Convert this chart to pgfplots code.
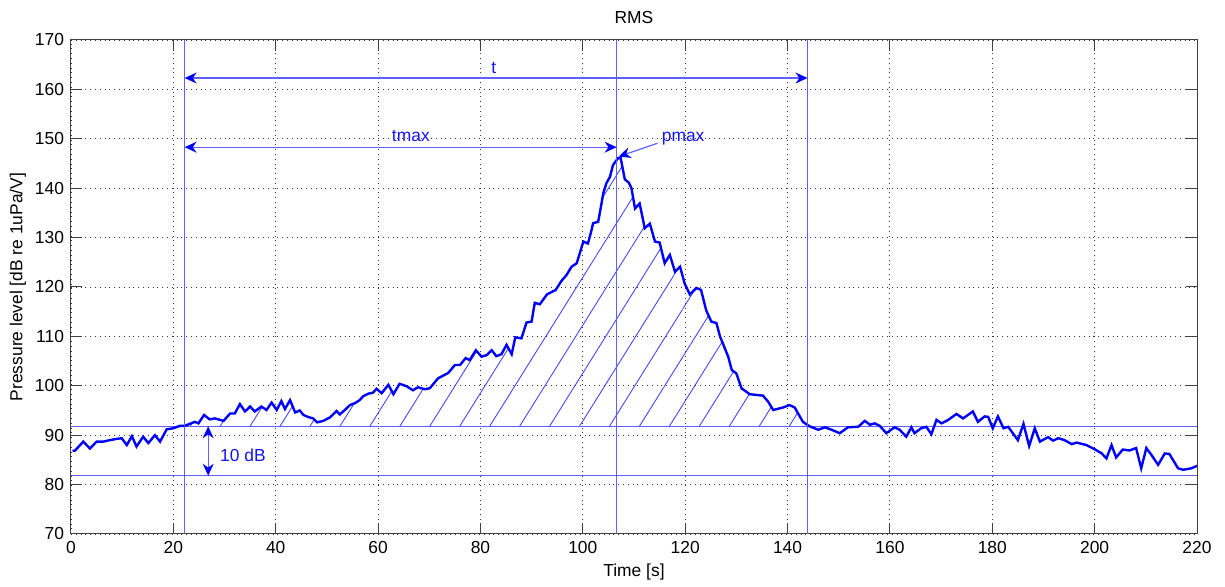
\documentclass[border=0pt]{standalone}
\usepackage{fontspec}
\setmainfont{Liberation Sans}
\usepackage{pgfplots}
\pgfplotsset{compat=1.18}
\usepgfplotslibrary{fillbetween}
\usetikzlibrary{patterns.meta,arrows.meta}
\definecolor{lineblue}{RGB}{95,95,255}
\definecolor{hatchblue}{RGB}{70,70,255}
\definecolor{curveblue}{RGB}{0,0,255}
\definecolor{txtblue}{RGB}{20,20,240}
\begin{document}
\begin{tikzpicture}[font=\fontsize{8.7}{10.4}\selectfont]
\begin{axis}[name=ax,
  scale only axis, width=563pt, height=247pt,
  xmin=0, xmax=220, ymin=70, ymax=170,
  xtick={0,20,...,220}, ytick={70,80,...,170},
  tick align=inside, major tick length=5.6pt,
  tick style={black!75, line width=0.5pt},
  axis line style={black!75, line width=0.5pt},
  grid=major, grid style={dotted, black!80, line width=0.45pt},
  /pgf/number format/assume math mode=true,
  every axis title/.style={at={(rel axis cs:0.5,1)}, anchor=center, yshift=11pt},
  every axis x label/.style={at={(rel axis cs:0.5,0)}, anchor=center, yshift=-19pt},
  every axis y label/.style={at={(rel axis cs:0,0.5)}, xshift=-26.5pt, rotate=90, anchor=center},
  title={RMS}, xlabel={Time [s]}, ylabel={Pressure level [dB re 1uPa/V]},
  clip=true,
]
% baseline and lower line
\addplot[name path=base, lineblue, line width=0.6pt] coordinates {(0,91.8) (220,91.8)};
\addplot[lineblue, line width=0.6pt] coordinates {(0,81.8) (220,81.8)};
% curve
\addplot[name path=curve, draw=none, forget plot] coordinates {
(0.3,86.8) (0.8,86.9) (2.4,88.7) (3.7,87.3) (5.0,88.7) (6.3,88.7) (7.6,89.0) (8.6,89.2) (9.9,89.4)
(10.9,88.0) (11.9,89.8) (12.8,87.7) (14.1,89.7) (15.1,88.4) (16.4,90.0) (17.4,88.7) (18.7,91.2)
(20.0,91.4) (21.3,91.9) (22.3,91.9) (23.2,92.3) (24.2,92.7) (24.9,92.4) (26.0,94.1) (27.1,93.2)
(28.1,93.4) (29.8,92.9) (31.1,94.4) (32.0,94.4) (33.0,96.3) (34.0,94.8) (35.0,95.8) (35.9,94.8)
(37.2,95.8) (38.2,95.1) (39.2,96.6) (40.2,95.1) (41.1,96.9) (41.8,95.3) (42.8,97.1) (43.8,94.6)
(44.7,95.0) (45.4,94.1) (46.3,93.7) (47.3,93.4) (48.1,92.6) (49.3,92.9) (50.6,93.6) (51.9,94.9)
(52.5,94.2) (53.5,95.1) (54.5,96.1) (55.5,96.5) (56.4,97.1) (57.1,97.9) (58.1,98.4) (59.0,98.6)
(59.7,99.4) (60.7,98.5) (62.0,100.2) (63.0,98.3) (64.2,100.4) (65.6,99.9) (66.8,99.1) (67.8,99.7)
(69.1,99.3) (70.1,99.5) (71.7,101.5) (73.7,102.6) (75.0,104.2) (76.0,104.2) (77.1,105.6) (77.9,105.2)
(79.1,107.2) (80.2,105.9) (81.2,106.2) (82.2,107.2) (83.1,106.0) (84.1,106.4) (85.1,108.3) (86.1,106.4)
(86.8,109.8) (88.0,109.6) (89.0,112.8) (90.0,113.0) (90.6,116.8) (91.6,116.5) (93.0,118.5) (94.7,119.4)
(95.8,121.2) (96.8,122.4) (97.8,124.1) (98.8,124.8) (99.4,126.8) (100.1,129.2) (101.0,128.8) (101.7,131.5)
(102.0,132.9) (103.0,133.2) (103.6,136.6) (104.0,139.0) (104.6,141.0) (105.3,142.3) (105.9,144.7) (106.9,146.1)
(107.4,146.1) (108.2,141.8) (109.0,141.1) (109.5,140.0) (110.2,135.9) (111.1,136.9) (112.1,131.9) (113.1,132.8)
(114.1,129.2) (115.0,129.0) (116.0,124.8) (117.0,126.5) (118.0,123.1) (119.0,124.1) (119.9,120.7) (120.9,118.5)
(122.2,119.8) (123.1,119.4) (124.1,115.3) (125.1,113.0) (126.1,112.7) (126.8,110.0) (128.4,105.9) (129.1,103.2)
(130.0,102.5) (131.0,99.5) (132.6,98.3) (135.2,98.0) (136.2,96.8) (137.2,95.1) (139.1,95.6) (140.4,96.1)
(141.4,95.6) (143.0,92.7) (144.3,91.8) (146.0,91.1) (147.3,91.6) (148.6,91.1) (150.2,90.4) (151.8,91.6)
(153.8,91.7) (155.1,92.9) (156.1,92.1) (157.0,92.4) (158.0,91.9) (159.3,90.4) (160.9,91.6) (161.9,91.1)
(163.2,89.7) (164.2,91.6) (164.8,90.4) (166.1,91.4) (167.1,91.7) (168.1,90.2) (169.1,93.1) (170.1,92.4)
(171.4,93.1) (173.0,94.3) (174.3,93.4) (176.2,94.8) (177.2,92.7) (178.5,93.8) (179.2,93.7) (180.1,91.4)
(181.1,93.8) (182.2,91.4) (183.1,91.7) (185.0,89.0) (186.1,92.3) (187.2,87.8) (188.3,91.4) (189.3,88.7)
(190.9,89.6) (191.9,88.9) (192.9,89.4) (194.1,89.0) (195.5,88.2) (196.5,88.5) (198.4,88.0) (200.1,87.1)
(201.4,86.3) (202.3,85.3) (203.3,88.0) (204.2,85.5) (205.5,87.1) (206.8,86.9) (208.1,87.4) (209.1,83.3)
(210.1,87.4) (211.1,86.0) (212.4,84.0) (213.7,86.3) (214.6,86.2) (216.3,83.3) (217.3,83.0) (218.9,83.3)
(220.0,83.8)
};
\addplot[pattern={Lines[angle=58, distance=12.7pt, line width=0.45pt]}, pattern color=hatchblue, draw=none]
  fill between[of=curve and base, soft clip={domain=22.2:143.9}];
\addplot[curveblue, line width=1.2pt] coordinates {
(0.3,86.8) (0.8,86.9) (2.4,88.7) (3.7,87.3) (5.0,88.7) (6.3,88.7) (7.6,89.0) (8.6,89.2) (9.9,89.4)
(10.9,88.0) (11.9,89.8) (12.8,87.7) (14.1,89.7) (15.1,88.4) (16.4,90.0) (17.4,88.7) (18.7,91.2)
(20.0,91.4) (21.3,91.9) (22.3,91.9) (23.2,92.3) (24.2,92.7) (24.9,92.4) (26.0,94.1) (27.1,93.2)
(28.1,93.4) (29.8,92.9) (31.1,94.4) (32.0,94.4) (33.0,96.3) (34.0,94.8) (35.0,95.8) (35.9,94.8)
(37.2,95.8) (38.2,95.1) (39.2,96.6) (40.2,95.1) (41.1,96.9) (41.8,95.3) (42.8,97.1) (43.8,94.6)
(44.7,95.0) (45.4,94.1) (46.3,93.7) (47.3,93.4) (48.1,92.6) (49.3,92.9) (50.6,93.6) (51.9,94.9)
(52.5,94.2) (53.5,95.1) (54.5,96.1) (55.5,96.5) (56.4,97.1) (57.1,97.9) (58.1,98.4) (59.0,98.6)
(59.7,99.4) (60.7,98.5) (62.0,100.2) (63.0,98.3) (64.2,100.4) (65.6,99.9) (66.8,99.1) (67.8,99.7)
(69.1,99.3) (70.1,99.5) (71.7,101.5) (73.7,102.6) (75.0,104.2) (76.0,104.2) (77.1,105.6) (77.9,105.2)
(79.1,107.2) (80.2,105.9) (81.2,106.2) (82.2,107.2) (83.1,106.0) (84.1,106.4) (85.1,108.3) (86.1,106.4)
(86.8,109.8) (88.0,109.6) (89.0,112.8) (90.0,113.0) (90.6,116.8) (91.6,116.5) (93.0,118.5) (94.7,119.4)
(95.8,121.2) (96.8,122.4) (97.8,124.1) (98.8,124.8) (99.4,126.8) (100.1,129.2) (101.0,128.8) (101.7,131.5)
(102.0,132.9) (103.0,133.2) (103.6,136.6) (104.0,139.0) (104.6,141.0) (105.3,142.3) (105.9,144.7) (106.9,146.1)
(107.4,146.1) (108.2,141.8) (109.0,141.1) (109.5,140.0) (110.2,135.9) (111.1,136.9) (112.1,131.9) (113.1,132.8)
(114.1,129.2) (115.0,129.0) (116.0,124.8) (117.0,126.5) (118.0,123.1) (119.0,124.1) (119.9,120.7) (120.9,118.5)
(122.2,119.8) (123.1,119.4) (124.1,115.3) (125.1,113.0) (126.1,112.7) (126.8,110.0) (128.4,105.9) (129.1,103.2)
(130.0,102.5) (131.0,99.5) (132.6,98.3) (135.2,98.0) (136.2,96.8) (137.2,95.1) (139.1,95.6) (140.4,96.1)
(141.4,95.6) (143.0,92.7) (144.3,91.8) (146.0,91.1) (147.3,91.6) (148.6,91.1) (150.2,90.4) (151.8,91.6)
(153.8,91.7) (155.1,92.9) (156.1,92.1) (157.0,92.4) (158.0,91.9) (159.3,90.4) (160.9,91.6) (161.9,91.1)
(163.2,89.7) (164.2,91.6) (164.8,90.4) (166.1,91.4) (167.1,91.7) (168.1,90.2) (169.1,93.1) (170.1,92.4)
(171.4,93.1) (173.0,94.3) (174.3,93.4) (176.2,94.8) (177.2,92.7) (178.5,93.8) (179.2,93.7) (180.1,91.4)
(181.1,93.8) (182.2,91.4) (183.1,91.7) (185.0,89.0) (186.1,92.3) (187.2,87.8) (188.3,91.4) (189.3,88.7)
(190.9,89.6) (191.9,88.9) (192.9,89.4) (194.1,89.0) (195.5,88.2) (196.5,88.5) (198.4,88.0) (200.1,87.1)
(201.4,86.3) (202.3,85.3) (203.3,88.0) (204.2,85.5) (205.5,87.1) (206.8,86.9) (208.1,87.4) (209.1,83.3)
(210.1,87.4) (211.1,86.0) (212.4,84.0) (213.7,86.3) (214.6,86.2) (216.3,83.3) (217.3,83.0) (218.9,83.3)
(220.0,83.8)
};
% vertical lines
\addplot[lineblue, line width=0.6pt] coordinates {(22.2,70) (22.2,170)};
\addplot[lineblue, line width=0.6pt] coordinates {(106.6,70) (106.6,170)};
\addplot[lineblue, line width=0.6pt] coordinates {(143.9,70) (143.9,170)};
% arrows
\addplot[lineblue, line width=0.6pt, {Stealth[length=6pt,width=5.5pt,color=curveblue]}-{Stealth[length=6pt,width=5.5pt,color=curveblue]}] coordinates {(22.2,162.3) (143.9,162.3)};
\addplot[lineblue, line width=0.6pt, {Stealth[length=6pt,width=5.5pt,color=curveblue]}-{Stealth[length=6pt,width=5.5pt,color=curveblue]}] coordinates {(22.2,148.3) (106.6,148.3)};
\addplot[lineblue, line width=0.6pt, -{Stealth[length=6pt,width=5.5pt,color=curveblue]}] coordinates {(114.6,149.1) (107.0,146.4)};
\addplot[lineblue, line width=0.6pt, {Stealth[length=6pt,width=5.5pt,color=curveblue]}-{Stealth[length=6pt,width=5.5pt,color=curveblue]}] coordinates {(26.8,91.8) (26.8,81.8)};
\node[txtblue, anchor=center] at (axis cs:82.6,164.3) {t};
\node[txtblue, anchor=center] at (axis cs:66.4,150.6) {tmax};
\node[txtblue, anchor=center] at (axis cs:119.6,150.0) {pmax};
\node[txtblue, anchor=center] at (axis cs:33.6,86.0) {10 dB};
\end{axis}
\path (ax.south west) ++(-35.5pt,-26pt) rectangle ++(612.5pt,293pt);
\end{tikzpicture}
\end{document}
